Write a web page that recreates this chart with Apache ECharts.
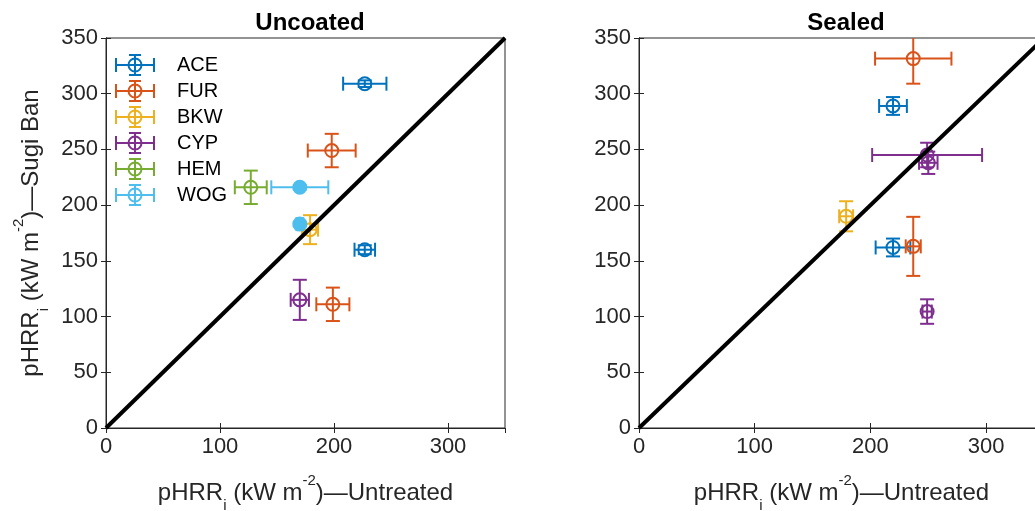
<!DOCTYPE html>
<html><head><meta charset="utf-8">
<script src="https://cdn.jsdelivr.net/npm/echarts@6/dist/echarts.min.js"></script>
<style>html,body{margin:0;padding:0;background:#fff}#c{width:1035px;height:511px}</style>
</head><body><div id="c"></div>
<script>
// ---- data ----
const species = ['ACE', 'FUR', 'BKW', 'CYP', 'HEM', 'WOG'];
const panelTitles = ['Uncoated', 'Sealed'];
const xTickValues = [0, 100, 200, 300];
const yTickValues = [0, 50, 100, 150, 200, 250, 300, 350];
// each point: [untreated pHRR, Sugi Ban pHRR, x error, y error]
const uncoatedACE = [[227, 309, 19, 3], [227, 160, 9, 4]];
const uncoatedFUR = [[198, 249, 21, 15], [199, 111, 14.5, 15]];
const uncoatedBKW = [[179, 178, 7, 13]];
const uncoatedCYP = [[170, 115, 8, 18]];
const uncoatedHEM = [[127, 216, 14, 15]];
const uncoatedWOG = [[170, 216, 25, 2], [170, 183, 3, 2]];
const sealedACE = [[219.5, 289, 12, 8], [219.5, 162, 15, 8]];
const sealedFUR = [[237, 331.5, 33, 22.5], [237, 163, 6.5, 26.5]];
const sealedBKW = [[179, 190, 6, 13.5]];
const sealedCYP = [[249, 245, 47.5, 11], [250, 238, 8, 10], [249, 104.5, 4, 11]];
const sealedHEM = [];
const sealedWOG = [];
const identityLine = [[0, 0], [350, 350]];

const panels = [
  [uncoatedACE, uncoatedFUR, uncoatedBKW, uncoatedCYP, uncoatedHEM, uncoatedWOG],
  [sealedACE, sealedFUR, sealedBKW, sealedCYP, sealedHEM, sealedWOG]
];
const filledMarkers = [['WOG'], []];
const colors = ['#0072BD', '#D95319', '#EDB120', '#7E2F8E', '#77AC30', '#4DBEEE'];
const FONT = 'Liberation Sans, Arial, sans-serif';
const AX = '#262626';

function makeRender(color, filled) {
  return function (params, api) {
    const x = api.value(0), y = api.value(1), ex = api.value(2), ey = api.value(3);
    const c = api.coord([x, y]);
    const l = api.coord([x - ex, y]), r = api.coord([x + ex, y]);
    const t = api.coord([x, y + ey]), b = api.coord([x, y - ey]);
    const cap = 7, rad = 6.5;
    const st = () => ({ stroke: color, lineWidth: 2, fill: null });
    const ln = (x1, y1, x2, y2) => ({ type: 'line', shape: { x1, y1, x2, y2 }, style: st() });
    return {
      type: 'group',
      children: [
        ln(l[0], c[1], r[0], c[1]),
        ln(l[0], c[1] - cap, l[0], c[1] + cap),
        ln(r[0], c[1] - cap, r[0], c[1] + cap),
        ln(c[0], t[1], c[0], b[1]),
        ln(c[0] - cap, t[1], c[0] + cap, t[1]),
        ln(c[0] - cap, b[1], c[0] + cap, b[1]),
        { type: 'circle', shape: { cx: c[0], cy: c[1], r: rad },
          style: { stroke: color, lineWidth: 2, fill: filled ? color : 'rgba(0,0,0,0)' } }
      ]
    };
  };
}

const nameRich = {
  a: { fontFamily: FONT, fontSize: 24, color: AX, lineHeight: 40, verticalAlign: 'middle' },
  sub: { fontFamily: FONT, fontSize: 15, color: AX, lineHeight: 15, verticalAlign: 'bottom' },
  sup: { fontFamily: FONT, fontSize: 15, color: AX, lineHeight: 15, verticalAlign: 'top' }
};
const xName = '{a|pHRR}{sub|i}{a| (kW m}{sup|-2}{a|)—Untreated}';
const yName = '{a|pHRR}{sub|i}{a| (kW m}{sup|-2}{a|)—Sugi Ban}';

function mainAxis(gridIndex, pos, interval, name, isX) {
  const ax = {
    type: 'value', gridIndex, position: pos, min: 0, max: 350, interval,
    axisLine: { show: true, lineStyle: { color: AX, width: 1 } },
    axisTick: { show: true, inside: true, length: 5, lineStyle: { color: AX } },
    splitLine: { show: false },
    axisLabel: { show: true, fontFamily: FONT, fontSize: 22, color: AX, margin: 8, showMaxLabel: isX ? false : true }
  };
  if (name) {
    ax.name = name;
    ax.nameLocation = 'middle';
    ax.nameMoveOverlap = false;
    ax.nameGap = isX ? 45 : 55;
    ax.nameTextStyle = { lineHeight: 40, rich: nameRich };
  }
  return ax;
}
function mirrorAxis(gridIndex, pos, interval) {
  return {
    type: 'value', gridIndex, position: pos, min: 0, max: 350, interval,
    axisLine: { show: true, lineStyle: { color: AX, width: 1 } },
    axisTick: { show: true, inside: true, length: 5, lineStyle: { color: AX } },
    splitLine: { show: false },
    axisLabel: { show: false }
  };
}

const series = [];
panels.forEach((arrs, p) => {
  arrs.forEach((arr, i) => {
    series.push({
      name: species[i], type: 'custom', xAxisIndex: p, yAxisIndex: p,
      data: arr, renderItem: makeRender(colors[i], filledMarkers[p].includes(species[i])),
      z: 2, clip: true
    });
  });
  series.push({
    type: 'line', xAxisIndex: p, yAxisIndex: p, data: identityLine, showSymbol: false,
    symbol: 'none', lineStyle: { color: '#000', width: 4 }, z: 3, silent: true
  });
});

const iconPath = 'path://M0,11L38,11M0,4L0,18M38,4L38,18M19,1L19,21M13,1L25,1M13,21L25,21' +
  'M25.5,11A6.5,6.5,0,1,1,12.5,11A6.5,6.5,0,1,1,25.5,11Z';

const chart = echarts.init(document.getElementById('c'), null, { renderer: 'canvas' });
chart.setOption({
  animation: false,
  backgroundColor: '#fff',
  title: [
    { text: panelTitles[0], left: 305, top: 6, textAlign: 'center',
      textStyle: { fontFamily: FONT, fontSize: 24, fontWeight: 'bold', color: '#000' } },
    { text: panelTitles[1], left: 841, top: 6, textAlign: 'center',
      textStyle: { fontFamily: FONT, fontSize: 24, fontWeight: 'bold', color: '#000' } }
  ],
  grid: [
    { left: 106, top: 38, width: 399, height: 390, show: true, borderColor: AX, borderWidth: 1,
      containLabel: false, outerBoundsMode: 'none' },
    { left: 639, top: 38, width: 405, height: 390, show: true, borderColor: AX, borderWidth: 1,
      containLabel: false, outerBoundsMode: 'none' }
  ],
  xAxis: [
    mainAxis(0, 'bottom', 100, xName, true),
    mainAxis(1, 'bottom', 100, xName, true),
    mirrorAxis(0, 'top', 100),
    mirrorAxis(1, 'top', 100)
  ],
  yAxis: [
    mainAxis(0, 'left', 50, yName, false),
    mainAxis(1, 'left', 50, null, false),
    mirrorAxis(0, 'right', 50),
    mirrorAxis(1, 'right', 50)
  ],
  legend: {
    orient: 'vertical', left: 115, top: 54, padding: 0, itemWidth: 38, itemHeight: 22, itemGap: 4,
    selectedMode: false,
    textStyle: { fontFamily: FONT, fontSize: 20, color: '#000', padding: [0, 0, 0, 18] },
    data: species.map((s, i) => ({
      name: s, icon: iconPath,
      itemStyle: { color: 'rgba(0,0,0,0)', borderColor: colors[i], borderWidth: 2 }
    }))
  },
  series
});
</script></body></html>
